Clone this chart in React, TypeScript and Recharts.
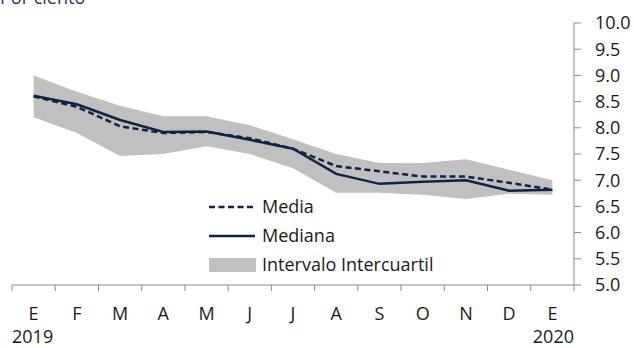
import React from 'react'
import { ComposedChart, Area, Line, XAxis, YAxis, Legend } from 'recharts'

const months = ['E', 'F', 'M', 'A', 'M', 'J', 'J', 'A', 'S', 'O', 'N', 'D', 'E']
const years = ['2019', '', '', '', '', '', '', '', '', '', '', '', '2020']
const media = [8.6, 8.4, 8.03, 7.9, 7.92, 7.8, 7.6, 7.27, 7.17, 7.07, 7.07, 6.95, 6.82]
const mediana = [8.61, 8.45, 8.15, 7.92, 7.93, 7.77, 7.6, 7.12, 6.93, 6.97, 7.0, 6.8, 6.82]
const q1 = [8.2, 7.9, 7.46, 7.5, 7.65, 7.5, 7.23, 6.76, 6.76, 6.72, 6.64, 6.74, 6.72]
const q3 = [9.0, 8.69, 8.42, 8.22, 8.22, 8.05, 7.78, 7.5, 7.33, 7.33, 7.4, 7.2, 7.0]
const yTicks = [5, 5.5, 6, 6.5, 7, 7.5, 8, 8.5, 9, 9.5, 10]

const data = months.map((m, i) => ({
  key: String(i),
  media: media[i],
  mediana: mediana[i],
  band: [q1[i], q3[i]],
}))

const FONT = '"Open Sans", Lato, sans-serif'
const NAVY = '#0f2444'
const TEXT = '#1a1a1a'
const AXIS = '#8c8c8c'

function MonthTick(props: any) {
  const { x, y, payload } = props
  const i = payload.index
  const half = payload.offset || 21.6
  const left = x - half
  const right = x + half
  return (
    <g>
      <line x1={left} y1={y} x2={left} y2={y + 6} stroke={AXIS} strokeWidth={1} />
      {i === months.length - 1 && (
        <line x1={right} y1={y} x2={right} y2={y + 6} stroke={AXIS} strokeWidth={1} />
      )}
      <text x={x} y={y + 35} textAnchor="middle" fontFamily={FONT} fontSize={18} fill={TEXT}>
        {months[i]}
      </text>
      {years[i] && (
        <text
          x={i === 0 ? left : right}
          y={y + 58}
          textAnchor={i === 0 ? 'start' : 'end'}
          fontFamily={FONT}
          fontSize={18}
          fill={TEXT}
        >
          {years[i]}
        </text>
      )}
    </g>
  )
}

const renderLegend = () => {
  const row = { display: 'flex', alignItems: 'center', height: 29, gap: 6 } as const
  const label = { fontFamily: FONT, fontSize: 18, color: TEXT, lineHeight: '29px', whiteSpace: 'nowrap' } as const
  return (
    <div>
      <div style={row}>
        <svg width={48} height={10}>
          <line x1={1} y1={5} x2={47} y2={5} stroke={NAVY} strokeWidth={2.5} strokeDasharray="6 3.5" />
        </svg>
        <span style={label}>Media</span>
      </div>
      <div style={row}>
        <svg width={48} height={10}>
          <line x1={1} y1={5} x2={47} y2={5} stroke={NAVY} strokeWidth={2.5} />
        </svg>
        <span style={label}>Mediana</span>
      </div>
      <div style={row}>
        <svg width={48} height={14}>
          <rect x={1} y={0} width={47} height={14} fill="#c0c0c0" />
        </svg>
        <span style={label}>Intervalo Intercuartil</span>
      </div>
    </div>
  )
}

export default function App() {
  return (
    <div style={{ position: 'absolute', left: 0, top: 0, width: 634, height: 348, overflow: 'hidden', background: '#fff' }}>
      <div style={{ position: 'absolute', left: 0, top: -15, fontFamily: FONT, fontSize: 18, color: '#1f3864', whiteSpace: 'nowrap' }}>
        Por ciento
      </div>
      <ComposedChart
        width={634}
        height={348}
        data={data}
        margin={{ top: 23, right: 0, bottom: 0, left: 12 }}
      >
        <XAxis
          dataKey="key"
          scale="band"
          interval={0}
          height={63}
          tickLine={false}
          tickSize={0}
          tickMargin={0}
          axisLine={{ stroke: AXIS, strokeWidth: 1 }}
          tick={<MonthTick />}
        />
        <YAxis
          orientation="right"
          width={60}
          domain={[5, 10]}
          ticks={yTicks}
          interval={0}
          tickFormatter={(v: number) => v.toFixed(1)}
          tickSize={7}
          tickMargin={14}
          axisLine={{ stroke: AXIS, strokeWidth: 1 }}
          tickLine={{ stroke: AXIS, strokeWidth: 1 }}
          tick={{ fontFamily: FONT, fontSize: 18, fill: TEXT }}
        />
        <Area
          dataKey="band"
          type="linear"
          fill="#c0c0c0"
          fillOpacity={1}
          stroke="none"
          isAnimationActive={false}
        />
        <Line
          dataKey="mediana"
          type="linear"
          stroke={NAVY}
          strokeWidth={2.5}
          dot={false}
          isAnimationActive={false}
        />
        <Line
          dataKey="media"
          type="linear"
          stroke={NAVY}
          strokeWidth={2.5}
          strokeDasharray="6 3.5"
          dot={false}
          isAnimationActive={false}
        />
        <Legend
          layout="vertical"
          align="center"
          verticalAlign="middle"
          content={renderLegend}
          wrapperStyle={{ left: 208, top: 192, width: 300, height: 90 }}
        />
      </ComposedChart>
    </div>
  )
}
